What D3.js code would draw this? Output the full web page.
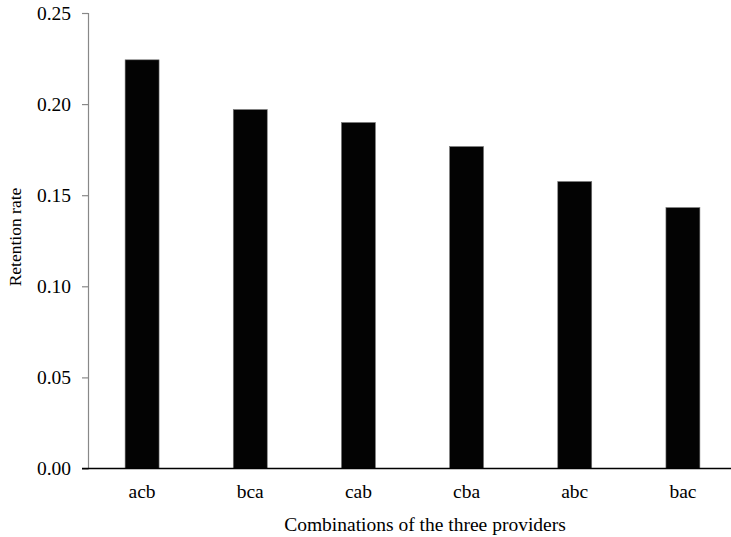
<!DOCTYPE html>
<html>
<head>
<meta charset="utf-8">
<script src="https://cdn.jsdelivr.net/npm/d3@7"></script>
<style>
  body { margin: 0; background: #fff; }
</style>
</head>
<body>
<div id="chart"></div>
<script>
const categories = ["acb", "bca", "cab", "cba", "abc", "bac"];
const retention = [0.2243, 0.1970, 0.1899, 0.1767, 0.1575, 0.1432];
const yTicks = [0, 0.05, 0.10, 0.15, 0.20, 0.25];

const width = 731, height = 537;
const plotLeft = 88, plotRight = 737, plotTop = 13, plotBottom = 468.5;
const serif = "'Liberation Serif', 'Times New Roman', Times, serif";

const svg = d3.select("#chart").append("svg")
  .attr("width", width)
  .attr("height", height)
  .attr("font-family", serif);

const x = d3.scaleBand()
  .domain(categories)
  .range([plotLeft, plotRight])
  .paddingInner(0.686)
  .paddingOuter(0.343);

const y = d3.scaleLinear()
  .domain([0, 0.25])
  .range([plotBottom, plotTop]);

// bars
svg.selectAll("rect.bar")
  .data(categories)
  .join("rect")
  .attr("class", "bar")
  .attr("x", d => x(d))
  .attr("width", x.bandwidth())
  .attr("y", (d, i) => y(retention[i]))
  .attr("height", (d, i) => plotBottom - y(retention[i]))
  .attr("fill", "#030303")
  .attr("stroke", "#777")
  .attr("stroke-width", 0.6);

// y axis
const yAxis = svg.append("g")
  .attr("transform", `translate(${plotLeft},0)`)
  .call(d3.axisLeft(y).tickValues(yTicks).tickFormat(d3.format(".2f")).tickSizeOuter(0).tickSize(6).tickPadding(11))
  .attr("font-family", serif)
  .attr("font-size", 19.5);
yAxis.select(".domain").attr("stroke", "#888").attr("stroke-width", 1.2);
yAxis.selectAll(".tick line").attr("stroke", "#888").attr("stroke-width", 1.2);
yAxis.selectAll("text").attr("fill", "#000");

// x axis
const xAxis = svg.append("g")
  .attr("transform", `translate(0,${plotBottom})`)
  .call(d3.axisBottom(x).tickSize(0).tickSizeOuter(0).tickPadding(16))
  .attr("font-family", serif)
  .attr("font-size", 19.5);
xAxis.select(".domain").attr("stroke", "#000").attr("stroke-width", 1.3)
  .attr("d", `M${plotLeft - 6},0H${plotRight}`);
xAxis.selectAll("text").attr("fill", "#000");

// titles
svg.append("text")
  .attr("x", 425)
  .attr("y", 531)
  .attr("text-anchor", "middle")
  .attr("font-size", 19.5)
  .text("Combinations of the three providers");

svg.append("text")
  .attr("transform", `translate(21,237) rotate(-90)`)
  .attr("text-anchor", "middle")
  .attr("font-size", 17.5)
  .text("Retention rate");
</script>
</body>
</html>
